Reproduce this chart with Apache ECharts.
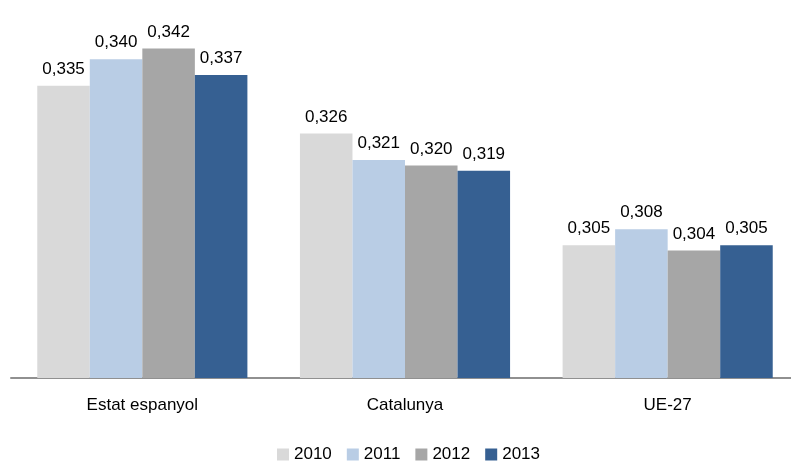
<!DOCTYPE html>
<html>
<head>
<meta charset="utf-8">
<script src="https://cdn.jsdelivr.net/npm/echarts@6/dist/echarts.min.js"></script>
<style>
  html, body { margin: 0; padding: 0; background: #fff; }
  #chart { width: 791px; height: 464px; }
</style>
</head>
<body>
<div id="chart"></div>
<script>
const categories = ['Estat espanyol', 'Catalunya', 'UE-27'];
const years = ['2010', '2011', '2012', '2013'];
const values2010 = [0.335, 0.326, 0.305];
const values2011 = [0.340, 0.321, 0.308];
const values2012 = [0.342, 0.320, 0.304];
const values2013 = [0.337, 0.319, 0.305];
const colors = ['#d9d9d9', '#b9cde5', '#a6a6a6', '#366092'];

const chart = echarts.init(document.getElementById('chart'));
const font = 'Liberation Sans, Arial, sans-serif';
const seriesData = [values2010, values2011, values2012, values2013];

chart.setOption({
  animation: false,
  textStyle: { fontFamily: font },
  grid: { left: 11, width: 788, top: 6, bottom: 86, outerBoundsMode: 'none' },
  legend: {
    left: 272,
    top: 441,
    itemWidth: 12,
    itemHeight: 12,
    itemGap: 15,
    icon: 'rect',
    textStyle: { fontSize: 17, color: '#000', fontFamily: font },
    data: years
  },
  xAxis: {
    type: 'category',
    data: categories,
    axisLine: { lineStyle: { color: '#909090', width: 2 } },
    axisTick: { show: false },
    axisLabel: { fontSize: 17, color: '#000', margin: 19, fontFamily: font }
  },
  yAxis: {
    type: 'value',
    min: 0.28,
    max: 0.35,
    show: false,
    splitLine: { show: false }
  },
  series: years.map((y, i) => ({
    name: y,
    type: 'bar',
    data: seriesData[i],
    barGap: '0%',
    barCategoryGap: '20%',
    itemStyle: { color: colors[i] },
    label: {
      show: true,
      position: 'top',
      distance: 8,
      fontSize: 17,
      color: '#000',
      fontFamily: font,
      formatter: p => p.value.toFixed(3).replace('.', ',')
    }
  }))
});
</script>
</body>
</html>
